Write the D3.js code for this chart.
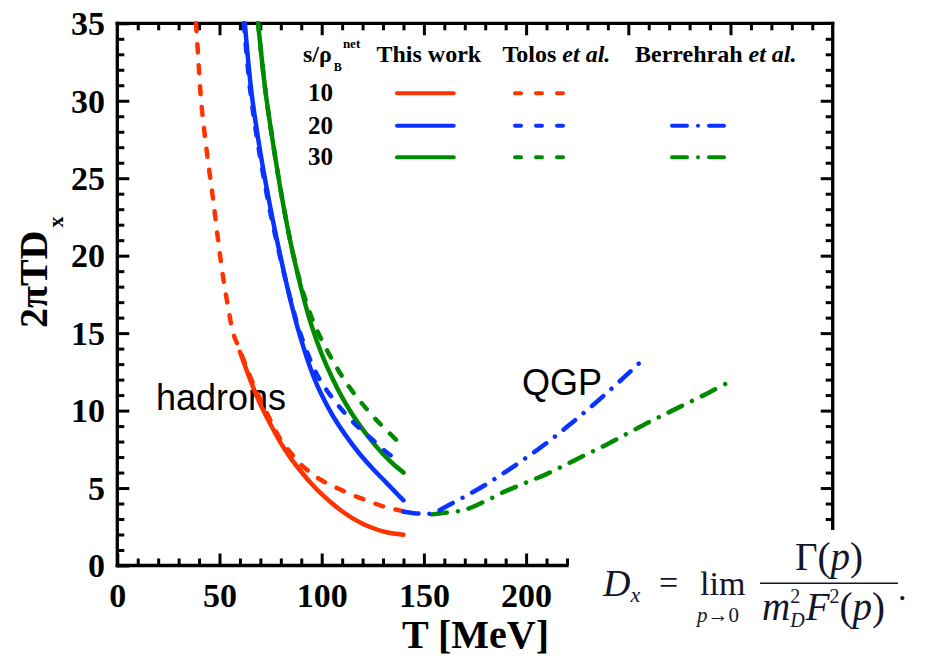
<!DOCTYPE html>
<html>
<head>
<meta charset="utf-8">
<script src="https://cdn.jsdelivr.net/npm/d3@7"></script>
<style>
  html, body { margin: 0; padding: 0; background: #fff; }
  svg { display: block; }
</style>
</head>
<body>
<svg id="chart" width="926" height="656"></svg>
<script>
// ---- data: 2πT·D_x versus T [MeV] ----
// This work (solid)
const workT10 = [60, 65, 70, 75, 80, 85, 90, 95, 100, 105, 110, 115, 120, 125, 130, 135, 140];
const workD10 = [13.8, 12.0, 10.4, 9.1, 7.9, 6.9, 6.05, 5.28, 4.6, 4.02, 3.5, 3.06, 2.7, 2.42, 2.2, 2.06, 1.98];
const workT20 = [62.4, 65.6, 69.7, 74.6, 78.6, 84.4, 89.2, 95.7, 100, 105.5, 112, 118.6, 125, 131.6, 135, 140];
const workD20 = [35, 30.6, 26.9, 23.3, 20.7, 17.3, 14.9, 12.3, 11.0, 9.65, 8.35, 7.2, 6.25, 5.35, 4.88, 4.2];
const workT30 = [68.9, 72.5, 76.5, 80.5, 85.5, 90.9, 95, 100, 105, 110, 115, 120, 125, 130, 135, 140];
const workD30 = [35, 30.6, 27.0, 23.8, 20.4, 17.4, 15.5, 13.65, 12.15, 10.85, 9.75, 8.8, 7.95, 7.2, 6.55, 6.0];

// Tolos et al. (dashed)
const tolosT10 = [38.5, 39.5, 41, 43.7, 46.9, 49.7, 52, 54.2, 56.7, 60, 65, 70, 75, 80, 85, 90, 95, 100, 105, 110, 115, 120, 125, 130, 135, 140];
const tolosD10 = [35, 33, 30, 26.8, 23.6, 20.6, 18.4, 16.7, 15.0, 13.9, 12.2, 10.7, 9.35, 8.1, 7.25, 6.5, 5.95, 5.5, 5.15, 4.85, 4.55, 4.3, 4.05, 3.82, 3.65, 3.5];
const tolosT20 = [61.9, 65.1, 69.2, 74.1, 78.3, 84.3, 89.5, 97.4, 105, 112.9, 119, 125, 130, 134.8];
const tolosD20 = [35, 30.6, 26.9, 23.3, 20.7, 17.4, 15.0, 12.4, 10.85, 9.6, 8.8, 8.1, 7.5, 7.0];
const tolosT30 = [68.9, 72.5, 76.5, 80.5, 85.5, 90.5, 95.7, 100, 105.5, 111, 117, 122, 126.7, 132, 138, 140];
const tolosD30 = [35, 30.6, 27.0, 23.8, 20.4, 17.8, 15.8, 14.55, 13.2, 12.0, 10.9, 10.1, 9.4, 8.7, 7.9, 7.65];

// Berrehrah et al. (dash-dot, QGP side)
const berT20 = [140, 145, 150, 153, 156, 160, 170, 180, 190, 200, 210, 220, 230, 240, 250, 258];
const berD20 = [3.47, 3.38, 3.33, 3.34, 3.45, 3.75, 4.45, 5.2, 6.05, 6.95, 7.9, 8.95, 10.05, 11.2, 12.4, 13.4];
const berT30 = [154, 160, 170, 180, 190, 200, 210, 220, 230, 240, 250, 260, 270, 280, 290, 300];
const berD30 = [3.3, 3.4, 3.6, 4.15, 4.8, 5.35, 5.9, 6.55, 7.2, 7.85, 8.55, 9.25, 9.9, 10.55, 11.2, 11.9];

// legend rows and axis ticks
const ratios = ["10", "20", "30"];
const xMajorTicks = [0, 50, 100, 150, 200];
const yMajorTicks = [0, 5, 10, 15, 20, 25, 30, 35];

const RED = "#ff3300", BLUE = "#0a33ff", GREEN = "#008a00";
const colors = [RED, BLUE, GREEN];

const svg = d3.select("#chart");
const x = d3.scaleLinear().domain([0, 350]).range([117.3, 832.7]);
const y = d3.scaleLinear().domain([0, 35]).range([565.5, 23.3]);

const SERIF = "'Liberation Serif', 'Times New Roman', serif";
const SANS = "'Liberation Sans', Arial, sans-serif";

// ---- frame and ticks ----
const frame = svg.append("g").attr("stroke", "#000").attr("stroke-width", 3.3).attr("stroke-linecap", "square");
frame.append("line").attr("x1", x(0)).attr("x2", x(0)).attr("y1", y(0)).attr("y2", y(35));
frame.append("line").attr("x1", x(0)).attr("x2", x(350)).attr("y1", y(35)).attr("y2", y(35));
frame.append("line").attr("x1", x(350)).attr("x2", x(350)).attr("y1", y(35)).attr("y2", y(2.4));
frame.append("line").attr("x1", x(0)).attr("x2", x(220)).attr("y1", y(0)).attr("y2", y(0));

function styleAxis(g) {
  g.select(".domain").remove();
  g.selectAll(".tick line").attr("stroke", "#000").attr("stroke-width", 3);
}

// bottom: minor + major
svg.append("g").attr("transform", `translate(0,${y(0)})`)
  .call(d3.axisBottom(x).tickValues(d3.range(10, 221, 10).filter(v => v % 50)).tickSize(-7).tickFormat(""))
  .call(styleAxis);
const bottomMajor = svg.append("g").attr("transform", `translate(0,${y(0)})`)
  .call(d3.axisBottom(x).tickValues(xMajorTicks).tickSize(-12).tickPadding(0))
  .call(styleAxis);
bottomMajor.selectAll(".tick text")
  .attr("y", 41.5).attr("dy", 0)
  .attr("font-family", SERIF).attr("font-weight", "bold").attr("font-size", 34).attr("fill", "#000");

// top: minor + major, no labels
svg.append("g").attr("transform", `translate(0,${y(35)})`)
  .call(d3.axisTop(x).tickValues(d3.range(10, 350, 10).filter(v => v % 50)).tickSize(-7).tickFormat(""))
  .call(styleAxis);
svg.append("g").attr("transform", `translate(0,${y(35)})`)
  .call(d3.axisTop(x).tickValues([50, 100, 150, 200, 250, 300]).tickSize(-12).tickFormat(""))
  .call(styleAxis);

// left: minor + major
svg.append("g").attr("transform", `translate(${x(0)},0)`)
  .call(d3.axisLeft(y).tickValues(d3.range(1, 35, 1).filter(v => v % 5)).tickSize(-7).tickFormat(""))
  .call(styleAxis);
const leftMajor = svg.append("g").attr("transform", `translate(${x(0)},0)`)
  .call(d3.axisLeft(y).tickValues(yMajorTicks).tickSize(-12).tickPadding(12.3))
  .call(styleAxis);
leftMajor.selectAll(".tick text")
  .attr("dy", 0).attr("y", 11.3)
  .attr("font-family", SERIF).attr("font-weight", "bold").attr("font-size", 34).attr("fill", "#000");

// right: minor + major, no labels
svg.append("g").attr("transform", `translate(${x(350)},0)`)
  .call(d3.axisRight(y).tickValues(d3.range(3, 35, 1).filter(v => v % 5)).tickSize(-7).tickFormat(""))
  .call(styleAxis);
svg.append("g").attr("transform", `translate(${x(350)},0)`)
  .call(d3.axisRight(y).tickValues([5, 10, 15, 20, 25, 30]).tickSize(-12).tickFormat(""))
  .call(styleAxis);

// ---- axis titles ----
const yTitle = svg.append("text")
  .attr("transform", "translate(46.7,328) rotate(-90)")
  .attr("font-family", SERIF).attr("font-weight", "bold").attr("font-size", 40).attr("fill", "#000");
yTitle.append("tspan").text("2πTD");
yTitle.append("tspan").attr("font-size", 22).attr("dx", 3).attr("dy", 16).text("x");

svg.append("text").attr("x", 402).attr("y", 648)
  .attr("font-family", SERIF).attr("font-weight", "bold").attr("font-size", 40).attr("fill", "#000")
  .text("T [MeV]");

// ---- region labels ----
svg.append("text").attr("x", 156).attr("y", 410)
  .attr("font-family", SANS).attr("font-size", 36).attr("fill", "#000").text("hadrons");
svg.append("text").attr("x", 522).attr("y", 395)
  .attr("font-family", SANS).attr("font-size", 36).attr("fill", "#000").text("QGP");

// ---- curves ----
const line = d3.line().x(d => x(d[0])).y(d => y(d[1])).curve(d3.curveCatmullRom.alpha(0.5));
const zipPts = (ts, vs) => ts.map((t, i) => [t, vs[i]]);

const plot = svg.append("g").attr("fill", "none").attr("stroke-width", 4.5).attr("stroke-linecap", "round").attr("stroke-linejoin", "round");

const solid = [[workT10, workD10], [workT20, workD20], [workT30, workD30]];
const dashed = [[tolosT10, tolosD10], [tolosT20, tolosD20], [tolosT30, tolosD30]];
const dashDot = [[berT20, berD20, BLUE], [berT30, berD30, GREEN]];

solid.forEach(([ts, vs], i) => {
  plot.append("path").attr("d", line(zipPts(ts, vs))).attr("stroke", colors[i]);
});
dashed.forEach(([ts, vs], i) => {
  plot.append("path").attr("d", line(zipPts(ts, vs))).attr("stroke", colors[i]).attr("stroke-dasharray", "8,13");
});
dashDot.slice().reverse().forEach(([ts, vs, c]) => {
  plot.append("path").attr("d", line(zipPts(ts, vs))).attr("stroke", c).attr("stroke-dasharray", "15,11,0.01,11");
});

// ---- legend ----
const leg = svg.append("g").attr("font-family", SERIF).attr("font-weight", "bold").attr("fill", "#000");
const hdr = leg.append("text").attr("x", 303).attr("y", 62).attr("font-size", 24);
hdr.append("tspan").text("s/ρ");
hdr.append("tspan").attr("font-size", 12).attr("dx", 2).attr("dy", 9).text("B");
hdr.append("tspan").attr("font-size", 13).attr("dx", 1).attr("dy", -23).text("net");
leg.append("text").attr("x", 376.5).attr("y", 62).attr("font-size", 24).text("This work");
const tol = leg.append("text").attr("x", 502.5).attr("y", 62).attr("font-size", 24);
tol.append("tspan").text("Tolos ");
tol.append("tspan").attr("font-style", "italic").text("et al.");
const ber = leg.append("text").attr("x", 635).attr("y", 62).attr("font-size", 24);
ber.append("tspan").text("Berrehrah ");
ber.append("tspan").attr("font-style", "italic").text("et al.");

const rowY = [93.3, 125.7, 157.3];
ratios.forEach((r, i) => {
  leg.append("text").attr("x", 308).attr("y", rowY[i] + 8).attr("font-size", 25).text(r);
  const g = svg.append("g").attr("stroke", colors[i]).attr("stroke-width", 4).attr("stroke-linecap", "round");
  g.append("line").attr("x1", 397).attr("x2", 453.7).attr("y1", rowY[i]).attr("y2", rowY[i]);
  g.append("line").attr("x1", 515).attr("x2", 565).attr("y1", rowY[i]).attr("y2", rowY[i]).attr("stroke-dasharray", "6,15");
  if (i > 0) {
    g.append("line").attr("x1", 672).attr("x2", 724).attr("y1", rowY[i]).attr("y2", rowY[i]).attr("stroke-dasharray", "15,11,0.01,11");
  }
});

// ---- definition of D_x ----
const INK = "#15152a";
const fm = svg.append("g").attr("font-family", SERIF).attr("fill", INK);
const lhs = fm.append("text").attr("x", 603).attr("y", 596).attr("font-size", 38);
lhs.append("tspan").attr("font-style", "italic").text("D");
lhs.append("tspan").attr("font-style", "italic").attr("font-size", 22).attr("dy", 6).text("x");
fm.append("text").attr("x", 659).attr("y", 594).attr("font-size", 34).text("=");
fm.append("text").attr("x", 700).attr("y", 595).attr("font-size", 34).text("lim");
const under = fm.append("text").attr("x", 697).attr("y", 622).attr("font-size", 21);
under.append("tspan").attr("font-style", "italic").text("p");
under.append("tspan").text("→0");
const num = fm.append("text").attr("x", 795).attr("y", 570).attr("font-size", 39);
num.append("tspan").text("Γ(");
num.append("tspan").attr("font-style", "italic").text("p");
num.append("tspan").text(")");
fm.append("line").attr("x1", 760).attr("x2", 898).attr("y1", 583.3).attr("y2", 583.3)
  .attr("stroke", INK).attr("stroke-width", 1.6);
const den = fm.append("text").attr("x", 762).attr("y", 620).attr("font-size", 39);
den.append("tspan").attr("font-style", "italic").text("m");
den.append("tspan").attr("font-size", 20).attr("dy", -17).text("2");
den.append("tspan").attr("font-size", 20).attr("font-style", "italic").attr("dx", -10).attr("dy", 24).text("D");
den.append("tspan").attr("font-style", "italic").attr("dy", -7).attr("dx", 1).text("F");
den.append("tspan").attr("font-size", 20).attr("dy", -17).text("2");
den.append("tspan").attr("dy", 17).text("(");
den.append("tspan").attr("font-style", "italic").text("p");
den.append("tspan").text(")");
fm.append("text").attr("x", 898).attr("y", 600).attr("font-size", 34).text(".");
</script>
</body>
</html>
